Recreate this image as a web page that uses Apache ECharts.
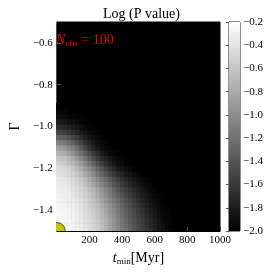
<!DOCTYPE html>
<html><head><meta charset="utf-8">
<script src="https://cdn.jsdelivr.net/npm/echarts@6/dist/echarts.min.js"></script>
<style>html,body{margin:0;padding:0;background:#fff}#c{width:274px;height:274px}</style>
</head><body><div id="c"></div>
<script>
// t_min sample positions [Myr]
const tValues = [0,25,50,75,100,125,150,175,200,225,250,275,300,325,350,375,400,425,450,475,500,525,550,575,600,625,650,675,700,725,750];
// Gamma sample positions (rows, bottom to top)
const gammaValues = [-1.5,-1.475,-1.45,-1.425,-1.4,-1.375,-1.35,-1.325,-1.3,-1.275,-1.25,-1.225,-1.2,-1.175,-1.15,-1.125,-1.1,-1.075,-1.05,-1.025,-1.0,-0.975,-0.95,-0.925,-0.9];
// Log(P value) per row; cells beyond a row's end are at or below -2 (black)
const logP = [
 [-0.24,-0.24,-0.24,-0.25,-0.27,-0.31,-0.34,-0.38,-0.43,-0.49,-0.55,-0.64,-0.73,-0.84,-0.94,-1.04,-1.14,-1.22,-1.31,-1.39,-1.47,-1.54,-1.61,-1.68,-1.75,-1.82,-1.87,-1.92,-1.96,-1.99],
 [-0.24,-0.24,-0.24,-0.26,-0.28,-0.31,-0.35,-0.40,-0.45,-0.51,-0.57,-0.66,-0.74,-0.86,-0.96,-1.05,-1.15,-1.24,-1.33,-1.41,-1.49,-1.56,-1.64,-1.71,-1.78,-1.84,-1.89,-1.94,-1.97,-1.99],
 [-0.24,-0.24,-0.25,-0.26,-0.28,-0.32,-0.36,-0.41,-0.46,-0.52,-0.59,-0.67,-0.76,-0.87,-0.98,-1.08,-1.17,-1.26,-1.35,-1.43,-1.51,-1.58,-1.66,-1.73,-1.80,-1.86,-1.92,-1.95,-1.98],
 [-0.24,-0.25,-0.26,-0.28,-0.29,-0.33,-0.38,-0.43,-0.48,-0.55,-0.62,-0.71,-0.80,-0.91,-1.01,-1.11,-1.21,-1.30,-1.39,-1.47,-1.55,-1.63,-1.70,-1.77,-1.83,-1.89,-1.94,-1.96,-1.99],
 [-0.26,-0.26,-0.27,-0.28,-0.31,-0.35,-0.39,-0.45,-0.50,-0.57,-0.64,-0.74,-0.84,-0.94,-1.05,-1.15,-1.24,-1.34,-1.42,-1.51,-1.59,-1.66,-1.73,-1.80,-1.86,-1.91,-1.95,-1.98],
 [-0.27,-0.28,-0.28,-0.31,-0.33,-0.37,-0.41,-0.48,-0.54,-0.61,-0.69,-0.79,-0.88,-0.99,-1.10,-1.20,-1.29,-1.39,-1.47,-1.56,-1.63,-1.70,-1.77,-1.83,-1.89,-1.93,-1.96,-1.99],
 [-0.28,-0.29,-0.30,-0.32,-0.34,-0.38,-0.43,-0.50,-0.57,-0.64,-0.73,-0.84,-0.94,-1.05,-1.15,-1.25,-1.35,-1.44,-1.52,-1.60,-1.68,-1.75,-1.81,-1.87,-1.92,-1.95,-1.98],
 [-0.30,-0.31,-0.31,-0.33,-0.36,-0.41,-0.47,-0.54,-0.61,-0.69,-0.79,-0.90,-1.01,-1.12,-1.22,-1.32,-1.42,-1.51,-1.58,-1.66,-1.73,-1.80,-1.85,-1.90,-1.94,-1.97,-1.99],
 [-0.32,-0.33,-0.33,-0.36,-0.39,-0.44,-0.50,-0.57,-0.66,-0.75,-0.86,-0.97,-1.08,-1.19,-1.29,-1.39,-1.48,-1.57,-1.65,-1.72,-1.79,-1.84,-1.89,-1.94,-1.96,-1.99],
 [-0.34,-0.35,-0.36,-0.39,-0.43,-0.48,-0.55,-0.64,-0.73,-0.84,-0.94,-1.06,-1.17,-1.28,-1.39,-1.48,-1.56,-1.64,-1.72,-1.78,-1.84,-1.89,-1.93,-1.96,-1.99],
 [-0.36,-0.38,-0.39,-0.42,-0.46,-0.52,-0.60,-0.69,-0.80,-0.91,-1.03,-1.15,-1.26,-1.36,-1.47,-1.56,-1.65,-1.72,-1.79,-1.84,-1.89,-1.94,-1.96,-1.99],
 [-0.39,-0.41,-0.43,-0.48,-0.52,-0.60,-0.69,-0.80,-0.91,-1.03,-1.15,-1.27,-1.39,-1.49,-1.59,-1.68,-1.75,-1.82,-1.87,-1.92,-1.95,-1.98,-1.99],
 [-0.43,-0.45,-0.48,-0.52,-0.59,-0.68,-0.79,-0.91,-1.03,-1.15,-1.28,-1.40,-1.52,-1.63,-1.72,-1.80,-1.86,-1.91,-1.95,-1.98,-1.99],
 [-0.50,-0.53,-0.56,-0.62,-0.69,-0.80,-0.92,-1.05,-1.18,-1.31,-1.44,-1.56,-1.66,-1.75,-1.82,-1.89,-1.93,-1.96,-1.99],
 [-0.59,-0.62,-0.64,-0.72,-0.80,-0.92,-1.05,-1.19,-1.33,-1.46,-1.58,-1.68,-1.77,-1.84,-1.90,-1.94,-1.97,-1.99],
 [-0.72,-0.75,-0.79,-0.87,-0.96,-1.08,-1.21,-1.34,-1.48,-1.60,-1.70,-1.79,-1.86,-1.91,-1.95,-1.98,-1.99],
 [-0.87,-0.91,-0.94,-1.03,-1.12,-1.24,-1.38,-1.51,-1.63,-1.74,-1.82,-1.89,-1.93,-1.96,-1.99],
 [-1.08,-1.12,-1.15,-1.24,-1.32,-1.42,-1.53,-1.64,-1.74,-1.82,-1.89,-1.93,-1.96,-1.99],
 [-1.29,-1.33,-1.36,-1.44,-1.51,-1.60,-1.68,-1.77,-1.84,-1.90,-1.94,-1.97,-1.99],
 [-1.51,-1.53,-1.56,-1.61,-1.67,-1.73,-1.80,-1.86,-1.91,-1.94,-1.97,-1.99],
 [-1.68,-1.70,-1.72,-1.76,-1.80,-1.85,-1.89,-1.93,-1.96,-1.98,-1.99],
 [-1.81,-1.82,-1.84,-1.87,-1.89,-1.92,-1.95,-1.97,-1.99],
 [-1.89,-1.91,-1.92,-1.94,-1.95,-1.96,-1.98,-1.99],
 [-1.95,-1.96,-1.96,-1.97,-1.99,-1.99],
 [-1.98,-1.99]
];
const xTicks = [200,400,600,800,1000];
const yTicks = [-1.4,-1.2,-1.0,-0.8,-0.6];
const cbTicks = [-2.0,-1.8,-1.6,-1.4,-1.2,-1.0,-0.8,-0.6,-0.4,-0.2];
const colorRange = [-2.0,-0.2];
const marker = [[0,-1.5]];

const FONT = 'Liberation Serif';
const fmt = v => v.toFixed(1).replace('-', '\u2212');
const data = [];
logP.forEach((row, i) => row.forEach((v, j) => data.push([tValues[j], gammaValues[i], v])));
const dt = (tValues[1]-tValues[0])/2, dg = (gammaValues[1]-gammaValues[0])/2;

const chart = echarts.init(document.getElementById('c'), null, {renderer:'canvas'});
chart.setOption({
  animation:false,
  backgroundColor:'#fff',
  title:{text:'Log (P value)', left:98, top:2, textStyle:{fontFamily:FONT, fontSize:14, fontWeight:'normal', color:'#000'}},
  grid:[
    {left:49, right:54, top:22, bottom:43, show:true, backgroundColor:'#000', borderColor:'#000', borderWidth:1},
    {left:229, right:34, top:22, bottom:43, show:true, borderColor:'#222', borderWidth:1}
  ],
  visualMap:{show:false, type:'continuous', min:colorRange[0], max:colorRange[1], dimension:2, seriesIndex:0, inRange:{color:['#000000','#ffffff']}},
  xAxis:[
    {gridIndex:0, type:'value', min:0, max:1000,
     name:'{i|t}{s|min}{n|[Myr]}', nameLocation:'middle', nameGap:17,
     nameTextStyle:{rich:{
       i:{fontFamily:FONT, fontStyle:'italic', fontSize:14, color:'#000', lineHeight:16, verticalAlign:'middle'},
       s:{fontFamily:FONT, fontSize:9, color:'#000', lineHeight:16, verticalAlign:'bottom'},
       n:{fontFamily:FONT, fontSize:14, color:'#000', lineHeight:16, verticalAlign:'middle'}}},
     axisLine:{show:true, lineStyle:{color:'#000', width:1}},
     axisTick:{show:true, inside:true, length:4, customValues:xTicks, lineStyle:{color:'#444'}},
     axisLabel:{customValues:xTicks, formatter:v => String(v), margin:4, fontFamily:FONT, fontSize:11, color:'#000'},
     splitLine:{show:false}},
    {gridIndex:1, type:'value', min:0, max:1, show:false}
  ],
  yAxis:[
    {gridIndex:0, type:'value', min:-1.5, max:-0.5,
     name:'\u0393', nameLocation:'middle', nameGap:33, nameRotate:90,
     nameTextStyle:{fontFamily:FONT, fontSize:14, color:'#000'},
     axisLine:{show:true, lineStyle:{color:'#000', width:1}},
     axisTick:{show:true, inside:true, length:4, customValues:yTicks, lineStyle:{color:'#555'}},
     axisLabel:{customValues:yTicks, formatter:fmt, margin:4, fontFamily:FONT, fontSize:11, color:'#000'},
     splitLine:{show:false}},
    {gridIndex:1, type:'value', min:colorRange[0], max:colorRange[1], position:'right',
     axisLine:{show:true, lineStyle:{color:'#222', width:1}},
     axisTick:{show:true, inside:true, length:3, customValues:cbTicks, lineStyle:{color:'#555'}},
     axisLabel:{customValues:cbTicks, formatter:fmt, margin:3, fontFamily:FONT, fontSize:11, color:'#000'},
     splitLine:{show:false}}
  ],
  graphic:[{
    type:'text', left:56, top:33, z:100,
    style:{text:'{n|N}{s|obs}{e| = 100}', rich:{
      n:{fontFamily:FONT, fontStyle:'italic', fontSize:14, fill:'#e60000', lineHeight:16, verticalAlign:'middle'},
      s:{fontFamily:FONT, fontSize:9, fill:'#e60000', lineHeight:16, verticalAlign:'bottom'},
      e:{fontFamily:FONT, fontSize:14, fill:'#e60000', lineHeight:16, verticalAlign:'middle'}}}
  }],
  series:[
    {type:'custom', xAxisIndex:0, yAxisIndex:0, clip:true, data:data, encode:{x:0, y:1},
     renderItem:(params, api) => {
       const t = api.value(0), g = api.value(1);
       const p0 = api.coord([t-dt, g-dg]);
       const p1 = api.coord([t+dt, g+dg]);
       return {type:'rect', shape:{x:p0[0], y:p1[1], width:p1[0]-p0[0]+0.6, height:p0[1]-p1[1]+0.6},
               style:{fill:api.visual('color')}};
     }},
    {type:'custom', xAxisIndex:0, yAxisIndex:0, clip:true, data:marker, encode:{x:0, y:1}, z:5,
     renderItem:(params, api) => {
       const c = api.coord([api.value(0), api.value(1)]);
       return {type:'circle', shape:{cx:c[0], cy:c[1], r:8.5},
               style:{fill:'#c8c400', stroke:'#333', lineWidth:0.8}};
     }},
    {type:'custom', xAxisIndex:1, yAxisIndex:1, data:[colorRange],
     renderItem:(params, api) => {
       const p0 = api.coord([0, api.value(0)]);
       const p1 = api.coord([1, api.value(1)]);
       return {type:'rect', shape:{x:p0[0], y:p1[1], width:p1[0]-p0[0], height:p0[1]-p1[1]},
               style:{fill:new echarts.graphic.LinearGradient(0,0,0,1,[{offset:0,color:'#fff'},{offset:1,color:'#000'}])}};
     }}
  ]
});
</script></body></html>
